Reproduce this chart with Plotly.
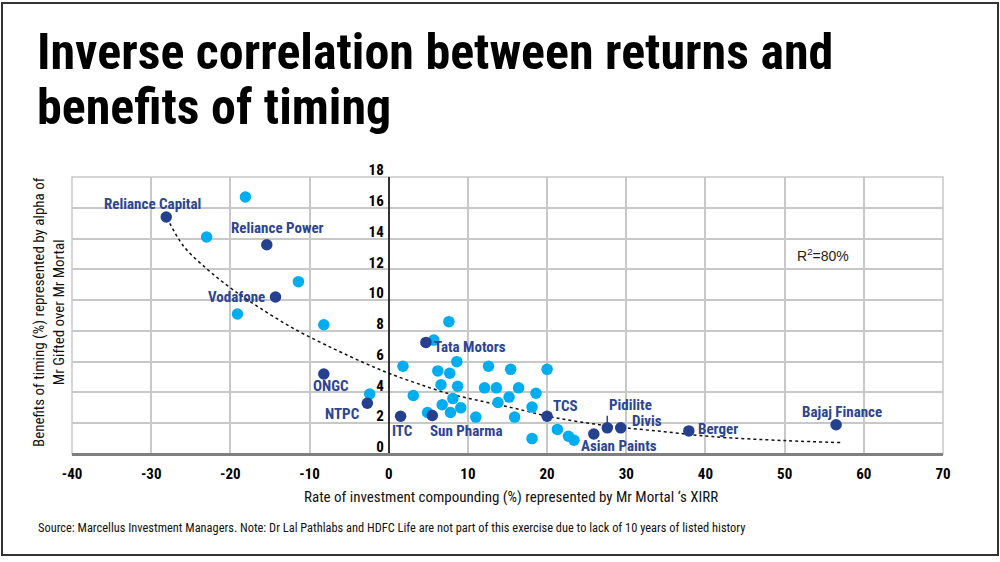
import plotly.graph_objects as go

# ---------------- data ----------------
light_x = [-18.1, -23.0, -11.4, -19.1, -8.2, -2.4, 7.6, 5.7, 1.8, 8.6, 6.2, 7.7, 6.6, 8.7,
           3.1, 8.1, 6.75, 9.1, 4.9, 7.8, 11.0, 12.6, 12.1, 13.6, 13.8, 15.4, 15.2, 16.4,
           15.9, 18.6, 18.1, 20.0, 18.1, 21.3, 22.7, 23.4]
light_y = [16.7, 14.1, 11.2, 9.1, 8.4, 3.9, 8.6, 7.4, 5.7, 6.0, 5.4, 5.25, 4.5, 4.4,
           3.8, 3.6, 3.2, 3.0, 2.7, 2.7, 2.4, 5.7, 4.3, 4.3, 3.35, 5.5, 3.7, 4.3,
           2.4, 3.95, 3.05, 5.5, 1.0, 1.6, 1.15, 0.9]

dark_names = ["Reliance Capital", "Reliance Power", "Vodafone", "ONGC", "NTPC", "ITC",
              "Sun Pharma", "Tata Motors", "TCS", "Asian Paints", "Pidilite", "Divis",
              "Berger", "Bajaj Finance"]
dark_x = [-28.1, -15.4, -14.3, -8.2, -2.7, 1.5, 5.5, 4.7, 20.0, 25.9, 27.6, 29.3, 37.9, 56.5]
dark_y = [15.4, 13.6, 10.2, 5.2, 3.3, 2.45, 2.5, 7.25, 2.45, 1.3, 1.7, 1.7, 1.5, 1.9]

trend_x = [-28.0, -25.9, -22.9, -20.0, -16.6, -12.0, -7.0, -3.0, 0.0, 3.5, 7.4, 12.0,
           15.9, 20.1, 24.0, 28.5, 34.8, 40.8, 50.0, 57.2]
trend_y = [15.35, 13.5, 12.0, 10.8, 9.6, 8.15, 6.85, 5.9, 5.25, 4.6, 3.95, 3.4,
           2.97, 2.45, 2.1, 1.78, 1.45, 1.13, 0.87, 0.74]

x_ticks = [-40, -30, -20, -10, 0, 10, 20, 30, 40, 50, 60, 70]
y_ticks = [0, 2, 4, 6, 8, 10, 12, 14, 16, 18]

title_lines = ["Inverse correlation between returns and", "benefits of timing"]
x_title = "Rate of investment compounding (%) represented by Mr Mortal \u2018s XIRR"
y_title = "Benefits of timing (%) represented by alpha of<br>Mr Gifted over Mr Mortal"
source_text = ("Source: Marcellus Investment Managers. Note: Dr Lal Pathlabs and HDFC Life are "
               "not part of this exercise due to lack of 10 years of listed history")
r2_text = "R<sup>2</sup>=80%"

# ---------------- style / layout ----------------
W, H = 1000, 562
L, R, T, B = 72, 57, 177, 108
PW, PH = W - L - R, H - T - B

def px(xp):
    return (xp - L) / PW

def py(yp):
    return (H - B - yp) / PH

COND = "Roboto Condensed, Liberation Sans Narrow, sans-serif"
DARK = "#24408E"
LIGHT = "#00AEEF"
LABEL = "#2B4593"

# label placement: (xanchor, dx, dy) in screen px relative to the dot
label_place = {
    "Reliance Capital": ("center", -14, -13),
    "Reliance Power": ("center", 11, -17),
    "Vodafone": ("right", -9, 0),
    "ONGC": ("center", 7, 12),
    "NTPC": ("right", -5, 11),
    "ITC": ("center", 2, 15),
    "Sun Pharma": ("left", -4, 15),
    "Tata Motors": ("left", 6, 5),
    "TCS": ("left", 4, -10),
    "Asian Paints": ("center", 25, 12),
    "Divis": ("left", 9, -7),
    "Berger": ("left", 7, -2),
    "Bajaj Finance": ("center", 6, -13),
}

fig = go.Figure()

fig.add_trace(go.Scatter(
    x=trend_x, y=trend_y, mode="lines", line=dict(color="#111111", width=1.5, dash="dot", shape="spline"),
    hoverinfo="skip", showlegend=False))
fig.add_trace(go.Scatter(
    x=light_x, y=light_y, mode="markers", marker=dict(color=LIGHT, size=11.5, line=dict(width=0)),
    showlegend=False))
fig.add_trace(go.Scatter(
    x=dark_x, y=dark_y, mode="markers", marker=dict(color=DARK, size=11.5, line=dict(width=0)),
    text=dark_names, showlegend=False))

annotations = []
for name, xv, yv in zip(dark_names, dark_x, dark_y):
    lf = dict(family=COND, size=15, color=LABEL, weight="bold")
    if name == "Pidilite":
        annotations.append(dict(x=xv, y=yv, xref="x", yref="y", text=name, showarrow=True,
                                ax=0, ay=-12, xanchor="left", yanchor="bottom", arrowhead=0,
                                arrowwidth=1.5, arrowcolor=LABEL, standoff=5, font=lf))
        continue
    xa, dx, dy = label_place[name]
    annotations.append(dict(x=xv, y=yv, xref="x", yref="y", text=name, showarrow=False,
                            xanchor=xa, yanchor="middle", xshift=dx, yshift=-dy, font=lf))

# title
for line, ypix in zip(title_lines, [52, 107]):
    annotations.append(dict(x=px(35), y=py(ypix), xref="paper", yref="paper", text=line,
                            showarrow=False, xanchor="left", yanchor="middle",
                            font=dict(family=COND, size=50, color="#000000", weight="bold")))
# axis titles
annotations.append(dict(x=px(511), y=py(497), xref="paper", yref="paper", text=x_title,
                        showarrow=False, xanchor="center", yanchor="middle",
                        font=dict(family=COND, size=15, color="#111111")))
annotations.append(dict(x=px(49), y=py(312), xref="paper", yref="paper", text=y_title,
                        showarrow=False, xanchor="center", yanchor="middle", textangle=-90,
                        font=dict(family=COND, size=15, color="#111111")))
# source
annotations.append(dict(x=px(36), y=py(527), xref="paper", yref="paper", text=source_text,
                        showarrow=False, xanchor="left", yanchor="middle",
                        font=dict(family=COND, size=12.4, color="#111111")))
# R squared
annotations.append(dict(x=px(823), y=py(255), xref="paper", yref="paper", text=r2_text,
                        showarrow=False, xanchor="center", yanchor="middle",
                        font=dict(family="Liberation Sans, Arial, sans-serif", size=14, color="#2A1A1A")))

shapes = [
    dict(type="rect", xref="paper", yref="paper", x0=0, y0=0, x1=1, y1=1,
         line=dict(color="#C8C8C8", width=1.5), layer="below"),
    dict(type="rect", xref="paper", yref="paper", x0=px(2), y0=py(555), x1=px(998), y1=py(3),
         line=dict(color="#333333", width=2), layer="above"),
]

fig.update_layout(
    width=W, height=H,
    margin=dict(l=L, r=R, t=T, b=B),
    paper_bgcolor="white", plot_bgcolor="white",
    showlegend=False,
    annotations=annotations,
    shapes=shapes,
    xaxis=dict(range=[-40, 70], tickvals=x_ticks, ticktext=[str(v) for v in x_ticks],
               showgrid=True, gridcolor="#C8C8C8", gridwidth=1.5,
               zeroline=True, zerolinecolor="#333333", zerolinewidth=1.5,
               showline=False, ticks="", ticklabelstandoff=9,
               tickfont=dict(family=COND, size=15, color="#000000", weight="bold"),
               fixedrange=True),
    yaxis=dict(range=[0, 18], tickvals=y_ticks, ticktext=[str(v) for v in y_ticks],
               anchor="free", position=40 / 110,
               showgrid=True, gridcolor="#C8C8C8", gridwidth=1.5,
               zeroline=True, zerolinecolor="#7F7F7F", zerolinewidth=2.5,
               showline=False, ticks="", ticklabelshift=-7, ticklabelstandoff=5,
               tickfont=dict(family=COND, size=15, color="#000000", weight="bold"),
               fixedrange=True),
)

fig.write_html("out.html", config={"displayModeBar": False},
               post_script="document.body.style.margin='0';")
